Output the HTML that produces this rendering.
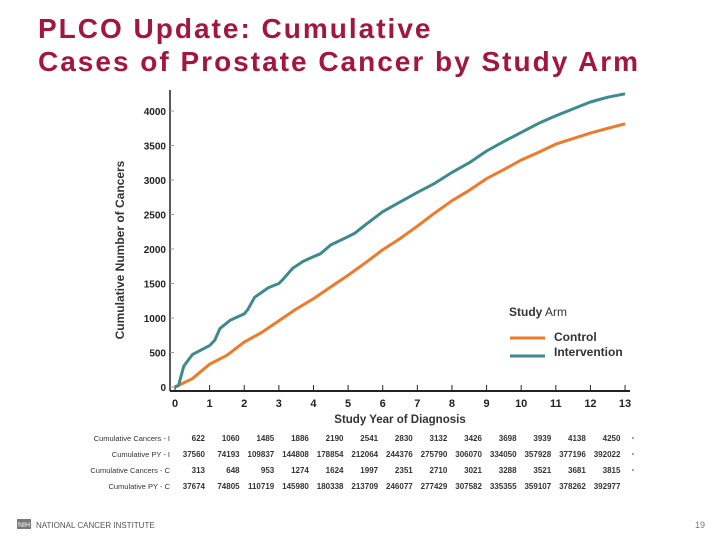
<!DOCTYPE html>
<html><head><meta charset="utf-8"><style>
body{margin:0;width:720px;height:540px;background:#fff;overflow:hidden;font-family:"Liberation Sans",sans-serif;position:relative}
.t{position:absolute;left:38px;top:12px;color:#a3173f;font-size:28px;line-height:33px;font-weight:bold;letter-spacing:2px}
svg{position:absolute;left:0;top:0}
</style></head><body>
<div class="t">PLCO Update: Cumulative<br>Cases of Prostate Cancer by Study Arm</div>
<svg width="720" height="540" id="c"></svg>
<script>
const yTicks=[0,500,1000,1500,2000,2500,3000,3500,4000];
const xTicks=[0,1,2,3,4,5,6,7,8,9,10,11,12,13];
const intX=[0,0.1,0.25,0.5,1,1.15,1.3,1.6,2,2.1,2.3,2.7,3,3.1,3.4,3.7,4,4.2,4.5,5,5.2,5.5,6,6.5,7,7.5,8,8.5,9,9.5,10,10.5,11,11.5,12,12.5,13];
const intY=[0,20,300,470,600,680,850,970,1060,1120,1300,1440,1500,1550,1720,1820,1890,1930,2060,2180,2230,2350,2540,2680,2820,2950,3110,3250,3420,3560,3690,3820,3930,4030,4130,4200,4250];
const ctlX=[0,0.5,1,1.5,2,2.5,3,3.5,4,4.5,5,5.5,6,6.5,7,7.5,8,8.5,9,9.5,10,10.5,11,11.5,12,12.5,13];
const ctlY=[0,120,330,460,650,790,960,1130,1280,1450,1620,1800,1990,2150,2330,2520,2700,2850,3020,3150,3290,3400,3520,3600,3680,3750,3815];
const rowLabels=["Cumulative Cancers - I","Cumulative PY - I","Cumulative Cancers - C","Cumulative PY - C"];
const rowCI=[622,1060,1485,1886,2190,2541,2830,3132,3426,3698,3939,4138,4250];
const rowPYI=[37560,74193,109837,144808,178854,212064,244376,275790,306070,334050,357928,377196,392022];
const rowCC=[313,648,953,1274,1624,1997,2351,2710,3021,3288,3521,3681,3815];
const rowPYC=[37674,74805,110719,145980,180338,213709,246077,277429,307582,335355,359107,378262,392977];
const X=v=>175+v*34.62, Y=v=>387-v*0.0690;
const s=document.getElementById('c'),NS='http://www.w3.org/2000/svg';
function el(t,a,txt){const e=document.createElementNS(NS,t);for(const k in a)e.setAttribute(k,a[k]);if(txt!==undefined)e.textContent=txt;s.appendChild(e);return e;}
let e;
e=el('line',{x1:170,y1:90,x2:170,y2:391,stroke:'#222','stroke-width':1.5});


e=el('line',{x1:170,y1:391,x2:630,y2:391,stroke:'#222','stroke-width':2});


yTicks.forEach(v=>{
 el('line',{x1:170,y1:Y(v),x2:174,y2:Y(v),stroke:'#999'});
 e=el('text',{x:166,y:Y(v)+4,'text-anchor':'end','font-size':10,'font-weight':'bold',fill:'#222'},v);
 
 
});
xTicks.forEach(v=>{
 el('line',{x1:X(v),y1:391,x2:X(v),y2:385,stroke:'#222'});
 e=el('text',{x:X(v),y:407,'text-anchor':'middle','font-size':11,'font-weight':'bold',fill:'#222'},v);
 
 
});
e=el('text',{x:400,y:423,'text-anchor':'middle','font-size':11.5,'font-weight':'bold',fill:'#333'},'Study Year of Diagnosis');


e=el('text',{x:124,y:250,'text-anchor':'middle','font-size':12,'font-weight':'bold',fill:'#333',transform:'rotate(-90 124 250)'},'Cumulative Number of Cancers');


function line(xs,ys,col,name){const d=xs.map((x,i)=>(i?'L':'M')+X(x).toFixed(1)+','+Y(ys[i]).toFixed(1)).join('');
 const p=el('path',{d:d,fill:'none',stroke:col,'stroke-width':3,'stroke-linejoin':'round'});
 
 }
line(ctlX,ctlY,'#ee7a2a','control-line');
line(intX,intY,'#3f8a8c','intervention-line');
e=el('text',{x:509,y:316,'font-size':12,fill:'#333'});e.innerHTML='<tspan font-weight="bold">Study</tspan> Arm';


el('line',{x1:510,y1:338,x2:545,y2:338,stroke:'#ee7a2a','stroke-width':3});
e=el('text',{x:554,y:341,'font-size':12,'font-weight':'bold',fill:'#333'},'Control');


el('line',{x1:510,y1:356,x2:545,y2:356,stroke:'#3f8a8c','stroke-width':3});
e=el('text',{x:554,y:356,'font-size':12,'font-weight':'bold',fill:'#333'},'Intervention');


const rows=[rowCI,rowPYI,rowCC,rowPYC];
rows.forEach((r,i)=>{const y=441+i*16;
 e=el('text',{x:170,y:y,'text-anchor':'end','font-size':7.5,fill:'#333'},rowLabels[i]);
 
 
 r.forEach((v,j)=>{e=el('text',{x:X(j)+30,y:y,'text-anchor':'end','font-size':8,'font-weight':'bold',fill:'#333'},v);
  
  });
 if(i<3){el('circle',{cx:633,cy:y-3,r:0.8,fill:'#333'});}
});
e=el('rect',{x:17,y:519,width:14,height:10,fill:'#777'});


el('text',{x:18,y:527,'font-size':7,fill:'#fff'},'NIH');
e=el('text',{x:36,y:528,'font-size':8,fill:'#555'},'NATIONAL CANCER INSTITUTE');


e=el('text',{x:705,y:528,'text-anchor':'end','font-size':9,fill:'#777'},'19');


</script>
</body></html>
